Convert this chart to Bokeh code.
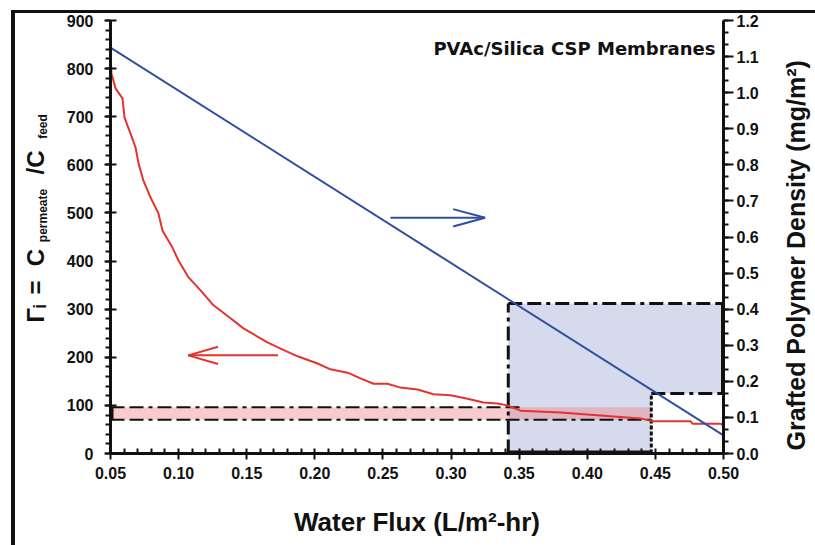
import numpy as np
from bokeh.plotting import figure
from bokeh.models import (Range1d, LinearAxis, FixedTicker, NumeralTickFormatter, Label)
from bokeh.embed import file_html
from bokeh.resources import INLINE
try:
    from bokeh.models import GlobalInlineStyleSheet
except Exception:
    GlobalInlineStyleSheet = None

# ---------------- data ----------------
flux_red = [0.050, 0.0507, 0.0537, 0.0588, 0.0603, 0.0647, 0.0684, 0.0706, 0.0742,
            0.0794, 0.0852, 0.0882, 0.0955, 0.0999, 0.1073, 0.1161, 0.1256, 0.1381,
            0.1476, 0.1652, 0.1733, 0.1873, 0.2020, 0.2115, 0.2240, 0.2335, 0.2431,
            0.2533, 0.2629, 0.2754, 0.2871, 0.2996, 0.3121, 0.3238, 0.3341, 0.3414,
            0.3510, 0.3803, 0.4097, 0.4391, 0.4479, 0.4758, 0.4773, 0.4978, 0.500]
ratio_red = [827, 790, 759, 738, 698, 665, 636, 603, 567,
             532, 499, 463, 428, 401, 366, 339, 308, 281,
             260, 231, 220, 202, 187, 175, 168, 156, 145,
             145, 137, 133, 123, 121, 114, 106, 104, 100,
             89, 85, 79, 73, 67, 67, 62, 62, 58]

flux_blue = [0.05, 0.50]
density_blue = [1.125, 0.05]

band_flux = [0.05, 0.352, 0.447]      # pink band: start, top-line end, bottom-line end
band_ratio = [70, 96]                 # pink band: bottom, top
box_flux = [0.342, 0.447, 0.50]       # blue box: left, step, right
box_density = [0.166, 0.416]          # blue box: step level, top

arrow_blue_x = [0.2555, 0.325]
arrow_blue_y = 490
arrow_red_x = [0.173, 0.107]
arrow_red_y = 204

x_ticks = [0.05, 0.10, 0.15, 0.20, 0.25, 0.30, 0.35, 0.40, 0.45, 0.50]
left_ticks = [0, 100, 200, 300, 400, 500, 600, 700, 800, 900]
right_ticks = [0.0, 0.1, 0.2, 0.3, 0.4, 0.5, 0.6, 0.7, 0.8, 0.9, 1.0, 1.1, 1.2]

title_text = "PVAc/Silica CSP Membranes"
x_label = "Water Flux (L/m\u00b2-hr)"
right_label = "Grafted Polymer Density (mg/m\u00b2)"
left_label_main = ["\u0393\u1d62", "=", "C", "/C"]     # Γi = C_permeate / C_feed
left_label_sub = ["permeate", "feed"]

RED = "#e2332d"
BLUE = "#2f4f9e"
BOXFILL = "#d5daec"
PINK = "#ee7c84"
BLACK = "#111111"
FONT = "Liberation Sans"

# ---------------- layout constants (page pixels) ----------------
W, H = 827, 545                       # last 12 px lie outside the 815 px window (hidden)
FR_L, FR_R, FR_T, FR_B = 110, 723, 20, 453
main_pos = [313, 287, 257, 162]       # page-y centres of the rotated left-label pieces
sub_pos = [215, 126]
right_label_start = 450               # page-y where the rotated right label begins

# ---------------- figure ----------------
p = figure(width=W, height=H, x_range=Range1d(0.05, 0.50), y_range=Range1d(0, 900),
           output_backend="svg", toolbar_location=None,
           min_border_left=5, min_border_right=W - FR_R,
           min_border_top=FR_T, min_border_bottom=H - FR_B,
           styles={"box-shadow": "inset 11px 10px 0 0 #ffffff, inset 15px 13px 0 0 #111111"})
if GlobalInlineStyleSheet is not None:
    p.stylesheets = [GlobalInlineStyleSheet(css="html, body { overflow: hidden; margin: 0; }")]
p.title.visible = False
p.extra_y_ranges = {"right": Range1d(0, 1.2), "lbl": Range1d(FR_B, FR_T)}
p.xgrid.visible = False
p.ygrid.visible = False
p.outline_line_color = None
p.background_fill_color = "white"
p.border_fill_color = None

# blue L-shaped box (right-axis units)
bl, bs, br = box_flux
bstep, btop = box_density
p.patch([bl, br, br, bs, bs, bl], [btop, btop, bstep, bstep, 0, 0],
        y_range_name="right", fill_color=BOXFILL, line_color=None)

# pink band (left-axis units)
p.quad(left=band_flux[0], right=band_flux[2], bottom=band_ratio[0], top=band_ratio[1],
       fill_color=PINK, fill_alpha=0.4, line_color=None)

# box outlines
dd = "14 5 14 5 4 5"
p.line([bl, bl], [0, btop], y_range_name="right", line_color=BLACK, line_width=3, line_dash=dd)
p.line([bl, br], [btop, btop], y_range_name="right", line_color=BLACK, line_width=3, line_dash=dd)
p.line([bs, br], [bstep, bstep], y_range_name="right", line_color=BLACK, line_width=3, line_dash=dd)
p.line([bs, bs], [0, bstep], y_range_name="right", line_color=BLACK, line_width=3, line_dash="4 2")
p.line([bl, bs], [0, 0], y_range_name="right", line_color=BLACK, line_width=6)
p.line([br, br], [bstep, btop], y_range_name="right", line_color=BLACK, line_width=5)

# band outlines
p.line([band_flux[0], band_flux[1]], [band_ratio[1], band_ratio[1]], line_color=BLACK,
       line_width=2, line_dash=dd)
p.line([band_flux[0], band_flux[2]], [band_ratio[0], band_ratio[0]], line_color=BLACK,
       line_width=2, line_dash=dd)
p.line([band_flux[0], band_flux[0]], [band_ratio[0], band_ratio[1]], line_color=BLACK,
       line_width=6)

# data lines
p.line(flux_red, ratio_red, line_color=RED, line_width=2)
p.line(flux_blue, density_blue, y_range_name="right", line_color=BLUE, line_width=2)

# arrows (shaft + open head)
def arrow(xs, y, color, head_dx, head_dy):
    x0, x1 = xs
    sgn = 1 if x1 > x0 else -1
    p.line([x0, x1], [y, y], line_color=color, line_width=2)
    p.segment(x0=[x1 - sgn * head_dx, x1 - sgn * head_dx], y0=[y + head_dy, y - head_dy],
              x1=[x1, x1], y1=[y, y], line_color=color, line_width=2)

arrow(arrow_blue_x, arrow_blue_y, BLUE, 0.0235, 18)
arrow(arrow_red_x, arrow_red_y, RED, 0.022, 18)

# ---------------- axes ----------------
def style_axis(ax):
    ax.axis_line_color = BLACK
    ax.axis_line_width = 3
    ax.major_tick_line_color = BLACK
    ax.major_tick_line_width = 2
    ax.minor_tick_line_color = BLACK
    ax.minor_tick_line_width = 2
    ax.major_label_text_font = FONT
    ax.major_label_text_font_style = "bold"
    ax.major_label_text_font_size = "16px"
    ax.major_label_text_color = BLACK
    ax.axis_label_text_font = FONT
    ax.axis_label_text_font_style = "bold"
    ax.axis_label_text_color = BLACK

xax = p.xaxis[0]
style_axis(xax)
xax.ticker = FixedTicker(ticks=x_ticks, minor_ticks=list(np.round(np.arange(0.05, 0.5001, 0.01), 3)))
xax.formatter = NumeralTickFormatter(format="0.00")
xax.major_tick_out = 6
xax.major_tick_in = 0
xax.minor_tick_in = 5
xax.minor_tick_out = 0
xax.major_label_standoff = 7
xax.axis_label = x_label
xax.axis_label_text_font_size = "26px"
xax.axis_label_standoff = 25

yax = p.yaxis[0]
style_axis(yax)
yax.ticker = FixedTicker(ticks=left_ticks, minor_ticks=list(np.arange(0, 901, 20)))
yax.formatter = NumeralTickFormatter(format="0")
yax.major_tick_out = 6
yax.major_tick_in = 6
yax.minor_tick_out = 5
yax.minor_tick_in = 0
yax.major_label_standoff = 11

rax = LinearAxis(y_range_name="right")
style_axis(rax)
rax.ticker = FixedTicker(ticks=right_ticks,
                         minor_ticks=list(np.round(np.arange(0, 1.2001, 0.1 / 3), 4)))
rax.formatter = NumeralTickFormatter(format="0.0")
rax.major_tick_out = 10
rax.major_tick_in = 0
rax.minor_tick_out = 5
rax.minor_tick_in = 0
rax.major_label_standoff = 3
p.add_layout(rax, "right")

# rotated texts carried by hidden axes (side panels are not clipped)
def text_axis(side, positions, texts, size, standoff, orientation, tick_out=0):
    ax = LinearAxis(y_range_name="lbl")
    ax.ticker = FixedTicker(ticks=positions, minor_ticks=[])
    ax.major_label_overrides = {pos: t for pos, t in zip(positions, texts)}
    ax.axis_line_color = None
    ax.major_tick_line_color = None
    ax.minor_tick_line_color = None
    ax.major_tick_out = tick_out
    ax.major_tick_in = 0
    ax.minor_tick_out = 0
    ax.minor_tick_in = 0
    ax.major_label_standoff = standoff
    ax.major_label_orientation = orientation
    ax.major_label_text_font = FONT
    ax.major_label_text_font_style = "bold"
    ax.major_label_text_font_size = size
    ax.major_label_text_color = BLACK
    p.add_layout(ax, side)

text_axis("left", sub_pos, left_label_sub, "12px", 14, "vertical")
text_axis("left", main_pos, left_label_main, "24px", -16, "vertical")
text_axis("left", [main_pos[0]], [""], "1px", 0, "vertical", tick_out=18)   # outer spacer
text_axis("right", [right_label_start], [right_label], "25px", 34, np.pi / 2)

# title inside plot
p.add_layout(Label(x=FR_R - FR_L - 8, y=FR_B - 48, x_units="screen", y_units="screen",
                   text=title_text, text_align="right", text_baseline="alphabetic",
                   text_font="DejaVu Sans", text_font_style="bold", text_font_size="18px",
                   text_color=BLACK))

open("out.html", "w").write(file_html(p, INLINE))
